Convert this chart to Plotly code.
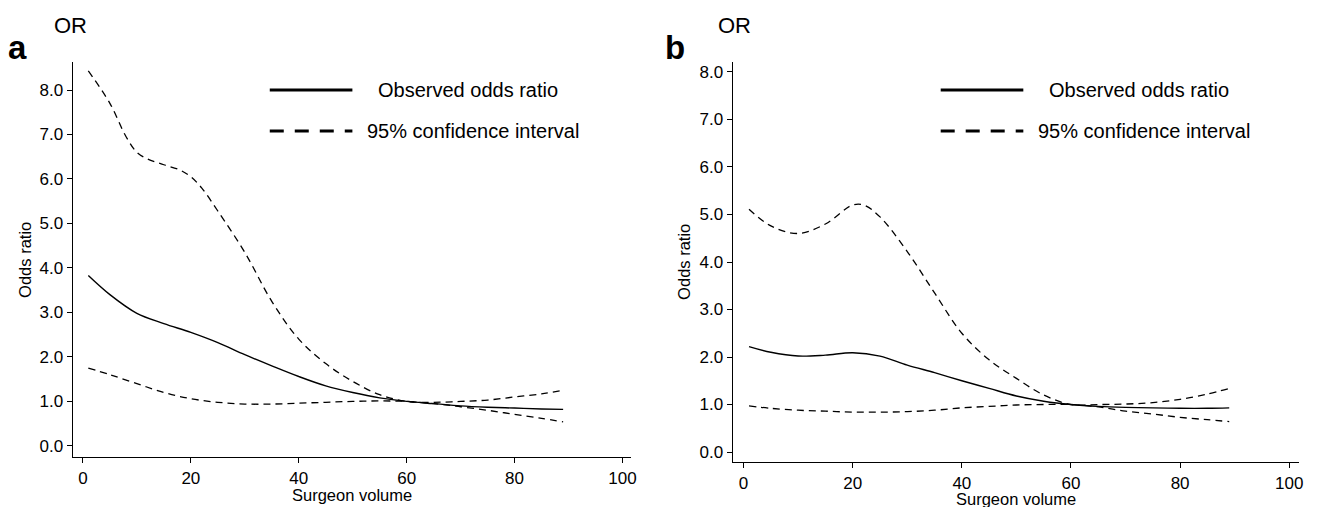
import plotly.graph_objects as go

W, H = 1320, 507

# ---------- data ----------
x_obs_a = [1, 5, 10, 15, 20, 25, 30, 35, 40, 45, 50, 55, 60, 65, 70, 75, 80, 85, 89]
obs_a = [3.83, 3.40, 2.98, 2.75, 2.55, 2.32, 2.05, 1.80, 1.56, 1.35, 1.20, 1.08, 1.00, 0.95, 0.90, 0.87, 0.85, 0.83, 0.82]

x_up_a = [1, 5, 8, 10, 12, 15, 18, 20, 22, 25, 30, 35, 40, 45, 50, 55, 60, 65, 70, 75, 80, 85, 89]
up_a = [8.43, 7.70, 6.95, 6.60, 6.45, 6.32, 6.20, 6.05, 5.80, 5.28, 4.35, 3.25, 2.40, 1.85, 1.45, 1.15, 1.00, 0.98, 1.00, 1.03, 1.10, 1.17, 1.25]

x_lo_a = [1, 5, 10, 15, 20, 25, 30, 35, 40, 45, 50, 55, 60, 65, 70, 75, 80, 85, 89]
lo_a = [1.75, 1.60, 1.40, 1.20, 1.06, 0.98, 0.94, 0.94, 0.96, 0.98, 1.00, 1.01, 1.00, 0.95, 0.88, 0.80, 0.71, 0.62, 0.54]

x_obs_b = [1, 5, 10, 15, 20, 25, 30, 35, 40, 45, 50, 55, 60, 65, 70, 75, 80, 85, 89]
obs_b = [2.22, 2.10, 2.02, 2.04, 2.09, 2.02, 1.83, 1.67, 1.50, 1.34, 1.18, 1.07, 1.00, 0.96, 0.94, 0.93, 0.92, 0.92, 0.93]

x_up_b = [1, 5, 10, 15, 20, 22, 25, 30, 35, 40, 45, 50, 55, 60, 65, 70, 75, 80, 85, 89]
up_b = [5.11, 4.76, 4.60, 4.80, 5.20, 5.20, 4.95, 4.22, 3.35, 2.50, 1.94, 1.55, 1.20, 1.00, 1.00, 1.01, 1.04, 1.11, 1.22, 1.34]

x_lo_b = [1, 5, 10, 15, 20, 25, 30, 35, 40, 45, 50, 55, 60, 65, 70, 75, 80, 85, 89]
lo_b = [0.97, 0.92, 0.88, 0.86, 0.84, 0.84, 0.85, 0.88, 0.93, 0.96, 0.99, 1.00, 1.00, 0.95, 0.86, 0.80, 0.73, 0.68, 0.64]

y_ticks = [0, 1, 2, 3, 4, 5, 6, 7, 8]
y_tick_labels = ["0.0", "1.0", "2.0", "3.0", "4.0", "5.0", "6.0", "7.0", "8.0"]
x_ticks = [0, 20, 40, 60, 80, 100]
x_tick_labels = ["0", "20", "40", "60", "80", "100"]

legend_labels = ["Observed odds ratio", "95% confidence interval"]
panel_labels = ["a", "b"]
x_title = "Surgeon volume"
y_title = "Odds ratio"
top_label = "OR"

FONT = "Liberation Sans, Arial, sans-serif"
DASH = "7px,5px"

fig = go.Figure()

def add_panel(xa, ya, xo, yo, xu, yu, xl, yl):
    fig.add_trace(go.Scatter(x=xo, y=yo, mode="lines", line=dict(color="black", width=1.4, shape="spline"),
                             xaxis=xa, yaxis=ya, showlegend=False, hoverinfo="skip"))
    fig.add_trace(go.Scatter(x=xu, y=yu, mode="lines", line=dict(color="black", width=1.3, dash=DASH, shape="spline"),
                             xaxis=xa, yaxis=ya, showlegend=False, hoverinfo="skip"))
    fig.add_trace(go.Scatter(x=xl, y=yl, mode="lines", line=dict(color="black", width=1.3, dash=DASH, shape="spline"),
                             xaxis=xa, yaxis=ya, showlegend=False, hoverinfo="skip"))

add_panel("x", "y", x_obs_a, obs_a, x_up_a, up_a, x_lo_a, lo_a)
add_panel("x2", "y2", x_obs_b, obs_b, x_up_b, up_b, x_lo_b, lo_b)

def px(x):
    return x / W

def py(y):
    return 1 - y / H

axis_common = dict(showline=True, linecolor="black", linewidth=1.2, ticks="outside", ticklen=5,
                   tickwidth=1, tickcolor="black", showgrid=False, zeroline=False,
                   tickfont=dict(family=FONT, size=17, color="black"), mirror=False)

xt = dict(tickvals=x_ticks, ticktext=x_tick_labels)
yt = dict(tickvals=y_ticks, ticktext=y_tick_labels)

fig.update_layout(
    width=W, height=H, margin=dict(l=0, r=0, t=0, b=0),
    paper_bgcolor="white", plot_bgcolor="white", showlegend=False,
    xaxis=dict(domain=[px(73), px(634)], range=[-1.9, 101.6], anchor="y", **xt, **axis_common),
    yaxis=dict(domain=[py(457), py(62)], range=[-0.25, 8.63], anchor="x", **yt, **axis_common),
    xaxis2=dict(domain=[px(736), px(1305)], range=[-2.0, 101.8], anchor="y2", **xt, **axis_common),
    yaxis2=dict(domain=[py(462), py(62)], range=[-0.21, 8.21], anchor="x2", **yt, **axis_common),
)

shapes = []
annotations = []
panels = [
    dict(off=0, lab=panel_labels[0], orx=71, lx=18, ytx=25, yty=260, xtx=354, xty=495),
    dict(off=674, lab=panel_labels[1], orx=738, lx=678, ytx=687, yty=262, xtx=1021, xty=499),
]
for p in panels:
    off = p["off"]
    shapes.append(dict(type="line", xref="paper", yref="paper", x0=px(271 + off), x1=px(354 + off),
                       y0=py(90), y1=py(90), line=dict(color="black", width=3)))
    shapes.append(dict(type="line", xref="paper", yref="paper", x0=px(271 + off), x1=px(354 + off),
                       y0=py(131), y1=py(131), line=dict(color="black", width=3, dash="14px,11px")))
    annotations.append(dict(text=legend_labels[0], xref="paper", yref="paper", x=px(378 + off), y=py(90),
                            xanchor="left", yanchor="middle", showarrow=False,
                            font=dict(family=FONT, size=20, color="black")))
    annotations.append(dict(text=legend_labels[1], xref="paper", yref="paper", x=px(367 + off), y=py(131),
                            xanchor="left", yanchor="middle", showarrow=False,
                            font=dict(family=FONT, size=20, color="black")))
    annotations.append(dict(text=top_label, xref="paper", yref="paper", x=px(p["orx"]), y=py(25),
                            xanchor="center", yanchor="middle", showarrow=False,
                            font=dict(family=FONT, size=22, color="black")))
    annotations.append(dict(text="<b>%s</b>" % p["lab"], xref="paper", yref="paper", x=px(p["lx"]), y=py(47),
                            xanchor="center", yanchor="middle", showarrow=False,
                            font=dict(family=FONT, size=33, color="black")))
    annotations.append(dict(text=y_title, xref="paper", yref="paper", x=px(p["ytx"]), y=py(p["yty"]),
                            xanchor="center", yanchor="middle", showarrow=False, textangle=-90,
                            font=dict(family=FONT, size=16.5, color="black")))
    annotations.append(dict(text=x_title, xref="paper", yref="paper", x=px(p["xtx"]), y=py(p["xty"]),
                            xanchor="center", yanchor="middle", showarrow=False,
                            font=dict(family=FONT, size=16.5, color="black")))

fig.update_layout(shapes=shapes, annotations=annotations)

fig.write_html("out.html", config={"displayModeBar": False},
               post_script="document.body.style.margin='0';document.body.style.overflow='hidden';")
